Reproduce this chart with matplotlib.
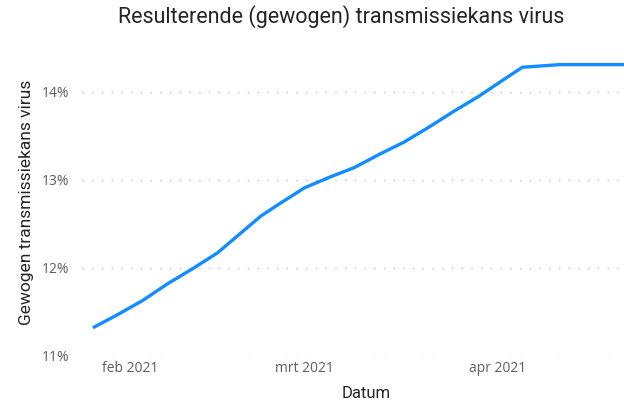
import matplotlib.pyplot as plt
import matplotlib.ticker as mticker
import numpy as np

# data (date, weighted transmission chance in %)
datums = ["2021-01-26", "2021-01-30", "2021-02-03", "2021-02-07", "2021-02-11",
          "2021-02-15", "2021-02-19", "2021-02-22", "2021-02-25", "2021-03-01",
          "2021-03-05", "2021-03-09", "2021-03-13", "2021-03-17", "2021-03-21",
          "2021-03-25", "2021-03-29", "2021-04-02", "2021-04-05", "2021-04-11",
          "2021-04-22"]
kans = [11.32, 11.47, 11.63, 11.82, 11.99,
        12.17, 12.41, 12.59, 12.73, 12.91,
        13.03, 13.14, 13.29, 13.43, 13.60,
        13.78, 13.95, 14.14, 14.28, 14.31,
        14.31]
y_ticks = [11, 12, 13, 14]
x_ticks = ["2021-02-01", "2021-03-01", "2021-04-01"]
x_ticklabels = ["feb 2021", "mrt 2021", "apr 2021"]

dates = np.array(datums, dtype="datetime64[D]")

fig = plt.figure(figsize=(6.24, 4.04), dpi=100)
ax = fig.add_axes([0.131, 0.119, 0.869, 0.745])

ax.plot(dates, kans, color="#118DFF", lw=2.4, solid_capstyle="butt",
        solid_joinstyle="round")

ax.set_xlim(np.datetime64("2021-01-24") + np.timedelta64(5, "h"),
            np.datetime64("2021-04-21") + np.timedelta64(8, "h"))
ax.set_ylim(11, 14.42)

ax.set_yticks(y_ticks)
ax.yaxis.set_major_formatter(mticker.FuncFormatter(lambda v, p: f"{v:.0f}%"))
ax.set_xticks(np.array(x_ticks, dtype="datetime64[D]"))
ax.set_xticklabels(x_ticklabels)

for lab in ax.get_xticklabels() + ax.get_yticklabels():
    lab.set_fontfamily(["Open Sans", "DejaVu Sans"])
    lab.set_fontsize(10)
    lab.set_color("#605E5C")

ax.tick_params(axis="both", length=0)
ax.tick_params(axis="x", pad=4)
ax.tick_params(axis="y", pad=9)

ax.grid(axis="y", color="#C0C0C0", lw=1, linestyle=(0, (1, 6)))
ax.grid(axis="x", visible=False)
for s in ax.spines.values():
    s.set_visible(False)
ax.set_axisbelow(True)

head = ["Roboto", "DejaVu Sans"]
fig.text(341 / 624, 1 - 17 / 404, "Resulterende (gewogen) transmissiekans virus",
         ha="center", va="center", fontsize=15.5, family=head, color="#252423")
fig.text(366 / 624, 1 - 394 / 404, "Datum", ha="center", va="center",
         fontsize=12, family=head, color="#252423")
fig.text(27 / 624, 1 - 202 / 404, "Gewogen transmissiekans virus", ha="center",
         va="center", rotation=90, fontsize=12.5, family=head, color="#252423")

fig.savefig("out.png", dpi=100)
